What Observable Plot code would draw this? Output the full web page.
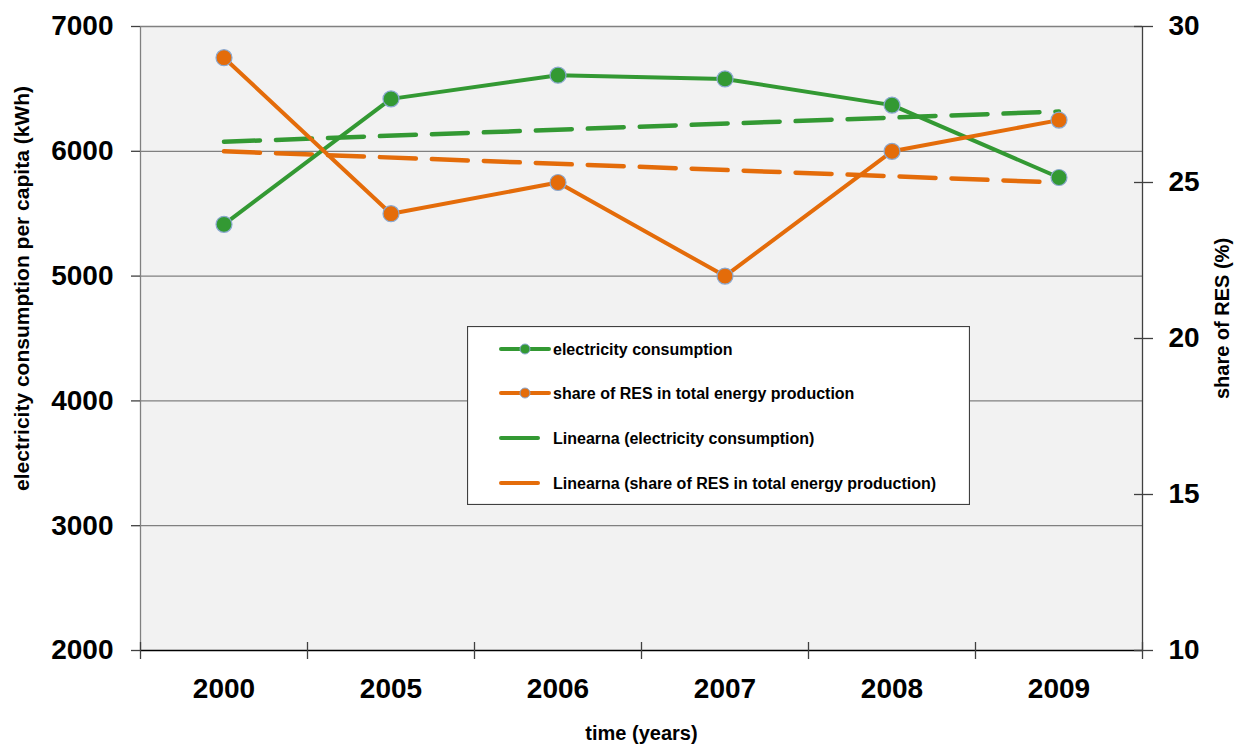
<!DOCTYPE html>
<html>
<head>
<meta charset="utf-8">
<script src="https://cdn.jsdelivr.net/npm/d3@7"></script>
<script src="https://cdn.jsdelivr.net/npm/@observablehq/plot@0.6"></script>
<style>
  html, body { margin: 0; padding: 0; background: #ffffff; }
  #wrap { position: relative; width: 1236px; height: 749px; font-family: "Liberation Sans", Arial, sans-serif; }
  #legend { position: absolute; left: 467px; top: 326px; }
</style>
</head>
<body>
<div id="wrap"></div>
<script>
// ---- data ----
const years = ["2000", "2005", "2006", "2007", "2008", "2009"];
const electricity = [5415, 6420, 6610, 6580, 6370, 5790];   // kWh per capita (left axis)
const resShare = [29, 24, 25, 22, 26, 27];                  // % (right axis)
const leftTicks = [2000, 3000, 4000, 5000, 6000, 7000];
const rightTicks = [10, 15, 20, 25, 30];
const seriesNames = [
  "electricity consumption",
  "share of RES in total energy production",
  "Linearna (electricity consumption)",
  "Linearna (share of RES in total energy production)"
];

const green = "#339933";
const orange = "#e46c0a";

// right axis (10..30) mapped onto left axis (2000..7000)
const toLeft = v => 2000 + (v - 10) * 250;
const fromLeft = v => String(Math.round((v - 2000) / 250 + 10));

const rows = years.map((year, i) => ({i, year, elec: electricity[i], res: resShare[i]}));

// least-squares linear trend (like the spreadsheet "Linear" trendline)
function trendOf(values) {
  const n = values.length;
  const xs = values.map((_, i) => i);
  const mx = d3.mean(xs), my = d3.mean(values);
  const b = d3.sum(xs, (x, k) => (x - mx) * (values[k] - my)) / d3.sum(xs, x => (x - mx) ** 2);
  const a = my - b * mx;
  return [0, n - 1].map(i => ({i, v: a + b * i}));
}
const elecTrend = trendOf(electricity);
const resTrend = trendOf(resShare).map(d => ({i: d.i, v: toLeft(d.v)}));

const bounds = d3.range(years.length + 1).map(k => k - 0.5);

const chart = Plot.plot({
  width: 1236,
  height: 749,
  marginTop: 26,
  marginRight: 94,
  marginBottom: 99,
  marginLeft: 140,
  style: {fontFamily: "Liberation Sans, Arial, sans-serif", background: "#ffffff", color: "#000"},
  x: {type: "linear", domain: [-0.5, years.length - 0.5]},
  y: {type: "linear", domain: [2000, 7000]},
  marks: [
    Plot.frame({fill: "#f2f2f2", stroke: null}),
    Plot.gridY(leftTicks.slice(1), {stroke: "#808080", strokeOpacity: 1, strokeWidth: 1.3}),
    Plot.ruleX([bounds[bounds.length - 1]], {stroke: "#404040", strokeWidth: 1.3}),
    Plot.ruleX([bounds[0]], {stroke: "#808080", strokeWidth: 1.3}),
    Plot.ruleY([leftTicks[0]], {stroke: "#000", strokeWidth: 1.3}),
    // boundary ticks on the category axis
    Plot.axisX(bounds, {tickSize: 17, dy: -8, fill: "none", stroke: "#404040", strokeWidth: 1.3, label: null}),
    // category labels
    Plot.axisX(d3.range(years.length), {tickSize: 0, tickPadding: 28, tickFormat: i => years[i],
      fontSize: 28, fontWeight: "bold", label: null}),
    // left axis
    Plot.axisY(leftTicks, {anchor: "left", tickSize: 9, tickPadding: 18, stroke: "#404040", strokeWidth: 1.3,
      tickFormat: d => String(d), fontSize: 28, fontWeight: "bold", label: null}),
    // right axis
    Plot.axisY(rightTicks.map(toLeft), {anchor: "right", tickSize: 19, dx: -9, fill: "none",
      stroke: "#404040", strokeWidth: 1.3, label: null}),
    Plot.axisY(rightTicks.map(toLeft), {anchor: "right", tickSize: 0, tickPadding: 26, tickFormat: fromLeft,
      fontSize: 28, fontWeight: "bold", label: null}),
    // trend lines
    Plot.line(elecTrend, {x: "i", y: "v", stroke: green, strokeWidth: 4.5, strokeDasharray: "36,16"}),
    Plot.line(resTrend, {x: "i", y: "v", stroke: orange, strokeWidth: 4.5, strokeDasharray: "36,16"}),
    // series
    Plot.line(rows, {x: "i", y: "elec", stroke: green, strokeWidth: 4}),
    Plot.line(rows, {x: "i", y: d => toLeft(d.res), stroke: orange, strokeWidth: 4}),
    Plot.dot(rows, {x: "i", y: "elec", r: 8, fill: green, stroke: "#8aa8d0", strokeWidth: 1.2}),
    Plot.dot(rows, {x: "i", y: d => toLeft(d.res), r: 8, fill: orange, stroke: "#8aa8d0", strokeWidth: 1.2}),
    // axis titles
    Plot.text(["electricity consumption per capita (kWh)"], {frameAnchor: "left", textAnchor: "middle",
      dx: -118, dy: -50, rotate: -90, fontSize: 21, fontWeight: "bold", fill: "#000"}),
    Plot.text(["share of RES (%)"], {frameAnchor: "right", textAnchor: "middle",
      dx: 80, dy: -20, rotate: -90, fontSize: 20, fontWeight: "bold", fill: "#000"}),
    Plot.text(["time (years)"], {frameAnchor: "bottom", dy: 89,
      fontSize: 20, fontWeight: "bold", fill: "#000"})
  ]
});

const wrap = document.getElementById("wrap");
wrap.appendChild(chart);

// ---- legend box (overlaid inside the plot area, as in the reference) ----
const lw = 503, lh = 179;
const legend = d3.create("svg")
  .attr("id", "legend")
  .attr("width", lw)
  .attr("height", lh)
  .attr("font-family", "Liberation Sans, Arial, sans-serif");
legend.append("rect").attr("x", 0.5).attr("y", 0.5).attr("width", lw - 1).attr("height", lh - 1)
  .attr("fill", "#ffffff").attr("stroke", "#404040").attr("stroke-width", 1.2);
const items = [
  {name: seriesNames[0], color: green, marker: true},
  {name: seriesNames[1], color: orange, marker: true},
  {name: seriesNames[2], color: green, marker: false},
  {name: seriesNames[3], color: orange, marker: false}
];
const rowY = [23, 67, 112, 157];
items.forEach((it, k) => {
  const g = legend.append("g").attr("transform", `translate(0,${rowY[k]})`);
  g.append("line").attr("x1", 34).attr("x2", it.marker ? 82 : 71).attr("y1", 0).attr("y2", 0)
    .attr("stroke", it.color).attr("stroke-width", 4).attr("stroke-linecap", "round");
  if (it.marker) {
    g.append("circle").attr("cx", 58).attr("cy", 0).attr("r", 5)
      .attr("fill", it.color).attr("stroke", "#8aa8d0").attr("stroke-width", 1);
  }
  g.append("text").attr("x", 86).attr("y", 0).attr("dy", "0.35em")
    .attr("font-size", 16).attr("font-weight", "bold").attr("fill", "#000").text(it.name);
});
wrap.appendChild(legend.node());
</script>
</body>
</html>
